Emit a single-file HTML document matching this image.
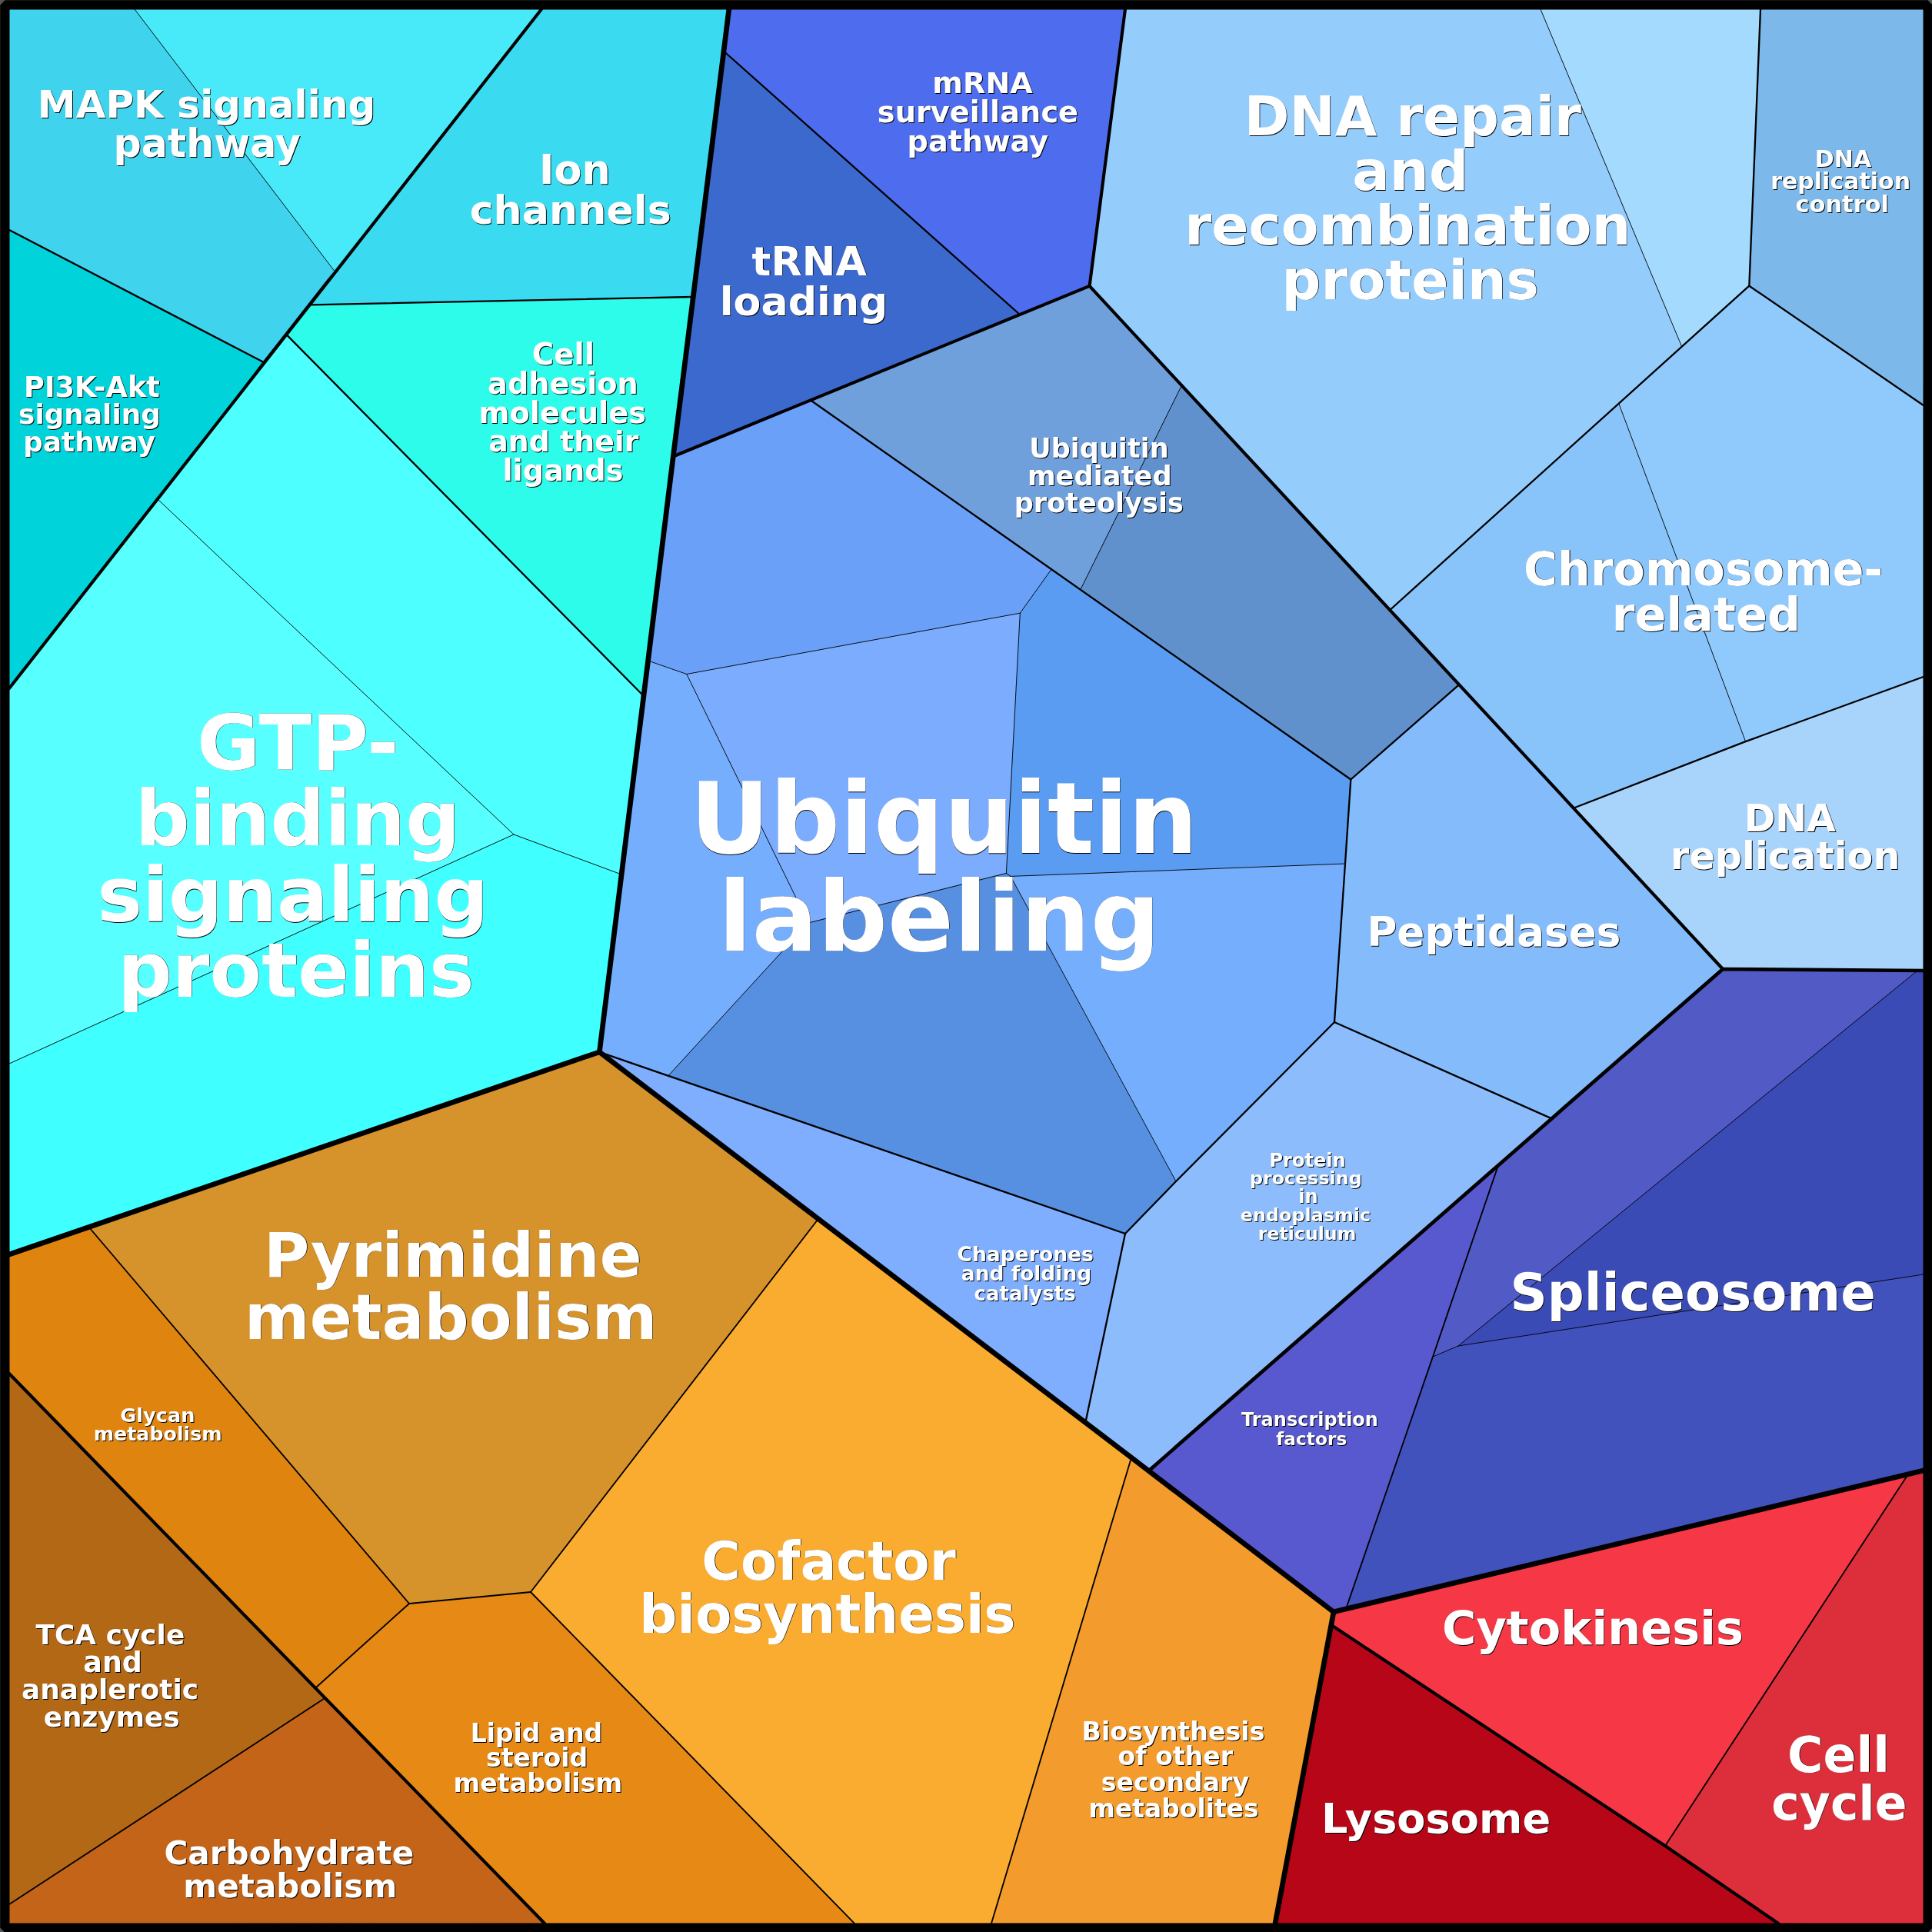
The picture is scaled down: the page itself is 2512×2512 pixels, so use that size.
<!DOCTYPE html>
<html lang="en"><head><meta charset="utf-8"><title>Voronoi treemap</title>
<style>html,body{margin:0;padding:0;background:#575757;}svg{display:block;will-change:transform;}text{font-family:"DejaVu Sans","Liberation Sans",sans-serif;font-weight:bold;text-anchor:start;}.sh{fill:#000;}.tx{fill:#fff;}</style></head><body>
<svg width="2512" height="2512" viewBox="0 0 2512 2512">
<rect x="0" y="0" width="2512" height="2512" fill="#575757"/>
<rect x="6.5" y="6.5" width="2500" height="2500" fill="#000" stroke="#000" stroke-width="12" stroke-linejoin="bevel"/>
<g stroke="none">
<polygon points="10,10 175,12 434.3,351.7 341.4,470.3 12,299" fill="#40D3EE" stroke="#40D3EE" stroke-width="0.6"/>
<polygon points="175,12 704,12 434.3,351.7" fill="#48E9F9" stroke="#48E9F9" stroke-width="0.6"/>
<polygon points="12,299 341.4,470.3 206,650 12,895" fill="#00D4DA" stroke="#00D4DA" stroke-width="0.6"/>
<polygon points="704,12 947.8,12 941,66.5 901.3,386 404.6,396.3 434.3,351.7" fill="#3ADBF0" stroke="#3ADBF0" stroke-width="0.6"/>
<polygon points="404.6,396.3 901.3,386 875.3,593.5 842.6,859 836.9,905 373,435.6" fill="#2EFCEA" stroke="#2EFCEA" stroke-width="0.6"/>
<polygon points="373,435.6 836.9,905 808.1,1137 668,1085 206,650" fill="#4EFFFF" stroke="#4EFFFF" stroke-width="0.6"/>
<polygon points="206,650 668,1085 12,1383 12,895" fill="#58FFFF" stroke="#58FFFF" stroke-width="0.6"/>
<polygon points="12,1383 668,1085 808.1,1137 779.4,1367.8 12,1631" fill="#40FFFF" stroke="#40FFFF" stroke-width="0.6"/>
<polygon points="941,66.5 1326,409 1054.5,520.7 875.3,593.5 901.3,386" fill="#3C69CE" stroke="#3C69CE" stroke-width="0.6"/>
<polygon points="947.8,12 1463,12 1416.6,371.9 1326,409 941,66.5" fill="#4E6DEE" stroke="#4E6DEE" stroke-width="0.6"/>
<polygon points="1463,12 2003,12 2186.7,450.7 2104.8,524.7 1807.3,793 1536,502 1416.6,371.9" fill="#94CCFC" stroke="#94CCFC" stroke-width="0.6"/>
<polygon points="2003,12 2289,12 2274.3,371.7 2186.7,450.7" fill="#A3DAFD" stroke="#A3DAFD" stroke-width="0.6"/>
<polygon points="2289,12 2502,10 2500.8,527 2274.3,371.7" fill="#7CB8E9" stroke="#7CB8E9" stroke-width="0.6"/>
<polygon points="1807.3,793 2104.8,524.7 2269.6,964.1 2046.5,1050.5 1897.2,890.2" fill="#88C4F9" stroke="#88C4F9" stroke-width="0.6"/>
<polygon points="2104.8,524.7 2186.7,450.7 2274.3,371.7 2500.8,527 2500.8,880 2269.6,964.1" fill="#90CAFD" stroke="#90CAFD" stroke-width="0.6"/>
<polygon points="2046.5,1050.5 2269.6,964.1 2500.8,880 2500.8,1262 2493,1262 2240,1260" fill="#A8D4FC" stroke="#A8D4FC" stroke-width="0.6"/>
<polygon points="1054.5,520.7 1326,409 1416.6,371.9 1536,502 1404.8,766.7 1367,740.3" fill="#70A0DC" stroke="#70A0DC" stroke-width="0.6"/>
<polygon points="1536,502 1807.3,793 1897.2,890.2 1756.3,1013.5 1404.8,766.7" fill="#6091CD" stroke="#6091CD" stroke-width="0.6"/>
<polygon points="1897.2,890.2 2046.5,1050.5 2240,1260 2017.5,1454.4 1735,1329 1749,1123 1756.3,1013.5" fill="#84BCFB" stroke="#84BCFB" stroke-width="0.6"/>
<polygon points="1735,1329 2017.5,1454.4 1948,1515.2 1493.5,1912.4 1411.3,1849.7 1463,1604 1529,1536" fill="#8CBCFB" stroke="#8CBCFB" stroke-width="0.6"/>
<polygon points="779.4,1367.8 869.5,1398 1463,1604 1411.3,1849.7 1064,1584.8" fill="#7EAEFD" stroke="#7EAEFD" stroke-width="0.6"/>
<polygon points="875.3,593.5 1054.5,520.7 1367,740.3 1326.3,797.2 892.8,876.5 842.6,859" fill="#6AA0F8" stroke="#6AA0F8" stroke-width="0.6"/>
<polygon points="892.8,876.5 1326.3,797.2 1308.4,1135.4 1051,1200" fill="#7CACFD" stroke="#7CACFD" stroke-width="0.6"/>
<polygon points="1367,740.3 1404.8,766.7 1756.3,1013.5 1749,1123 1314,1139.4 1308.4,1135.4 1326.3,797.2" fill="#5A9CF1" stroke="#5A9CF1" stroke-width="0.6"/>
<polygon points="842.6,859 892.8,876.5 1051,1200 869.5,1398 779.4,1367.8 808.1,1137 836.9,905" fill="#76AEFE" stroke="#76AEFE" stroke-width="0.6"/>
<polygon points="1051,1200 1308.4,1135.4 1314,1139.4 1529,1536 1463,1604 869.5,1398" fill="#5790E0" stroke="#5790E0" stroke-width="0.6"/>
<polygon points="1314,1139.4 1749,1123 1735,1329 1529,1536" fill="#74AEFD" stroke="#74AEFD" stroke-width="0.6"/>
<polygon points="1493.5,1912.4 1948,1515.2 1863,1764 1750,2092 1734,2095.8" fill="#5859CF" stroke="#5859CF" stroke-width="0.6"/>
<polygon points="1948,1515.2 2240,1260 2493,1262 1896,1750 1863,1764" fill="#525AC6" stroke="#525AC6" stroke-width="0.6"/>
<polygon points="2493,1262 2500.8,1262 2500.8,1657 1896,1750" fill="#3B4BB6" stroke="#3B4BB6" stroke-width="0.6"/>
<polygon points="1863,1764 1896,1750 2500.8,1657 2500.8,1912 2481,1916.7 1750,2092" fill="#4252BC" stroke="#4252BC" stroke-width="0.6"/>
<polygon points="1730.8,2112.8 2165,2400 2312,2500.8 1658,2500.8" fill="#B70617" stroke="#B70617" stroke-width="0.6"/>
<polygon points="1734,2095.8 1750,2092 2481,1916.7 2165,2400 1730.8,2112.8" fill="#F53746" stroke="#F53746" stroke-width="0.6"/>
<polygon points="2481,1916.7 2500.8,1912 2502,2502 2312,2500.8 2165,2400" fill="#DD2F3B" stroke="#DD2F3B" stroke-width="0.6"/>
<polygon points="12,1631 116,1596 532,2085 411,2194 12,1786" fill="#DF840E" stroke="#DF840E" stroke-width="0.6"/>
<polygon points="116,1596 779.4,1367.8 1064,1584.8 690,2070 532,2085" fill="#D6922B" stroke="#D6922B" stroke-width="0.6"/>
<polygon points="1064,1584.8 1411.3,1849.7 1471,1895.2 1289,2500.8 1111,2500.8 690,2070" fill="#FAAC30" stroke="#FAAC30" stroke-width="0.6"/>
<polygon points="1471,1895.2 1493.5,1912.4 1734,2095.8 1730.8,2112.8 1658,2500.8 1289,2500.8" fill="#F39C2D" stroke="#F39C2D" stroke-width="0.6"/>
<polygon points="532,2085 690,2070 1111,2500.8 708,2500.8 421.5,2208.5 411,2194" fill="#E78915" stroke="#E78915" stroke-width="0.6"/>
<polygon points="12,1786 411,2194 421.5,2208.5 12,2476" fill="#B36816" stroke="#B36816" stroke-width="0.6"/>
<polygon points="421.5,2208.5 708,2500.8 10,2502 12,2476" fill="#C36418" stroke="#C36418" stroke-width="0.6"/>
</g>
<g fill="none" stroke="#000" stroke-linecap="round" stroke-linejoin="round">
<polyline points="175,12 434.3,351.7" stroke-width="0.9"/>
<polyline points="206,650 668,1085" stroke-width="0.9"/>
<polyline points="668,1085 808.1,1137" stroke-width="0.9"/>
<polyline points="668,1085 12,1383" stroke-width="0.9"/>
<polyline points="2003,12 2186.7,450.7" stroke-width="0.9"/>
<polyline points="2104.8,524.7 2269.6,964.1" stroke-width="0.9"/>
<polyline points="1536,502 1404.8,766.7" stroke-width="0.9"/>
<polyline points="842.6,859 892.8,876.5" stroke-width="0.9"/>
<polyline points="892.8,876.5 1326.3,797.2" stroke-width="0.9"/>
<polyline points="1367,740.3 1326.3,797.2" stroke-width="0.9"/>
<polyline points="1326.3,797.2 1308.4,1135.4" stroke-width="0.9"/>
<polyline points="892.8,876.5 1051,1200" stroke-width="0.9"/>
<polyline points="1308.4,1135.4 1051,1200" stroke-width="0.9"/>
<polyline points="1051,1200 869.5,1398" stroke-width="0.9"/>
<polyline points="1308.4,1135.4 1314,1139.4" stroke-width="0.9"/>
<polyline points="1314,1139.4 1749,1123" stroke-width="0.9"/>
<polyline points="1314,1139.4 1529,1536" stroke-width="0.9"/>
<polyline points="1863,1764 1896,1750" stroke-width="0.9"/>
<polyline points="1896,1750 2493,1262" stroke-width="0.9"/>
<polyline points="1896,1750 2500.8,1657" stroke-width="0.9"/>
<polyline points="12,299 341.4,470.3" stroke-width="2.3"/>
<polyline points="404.6,396.3 901.3,386" stroke-width="2.3"/>
<polyline points="373,435.6 836.9,905" stroke-width="2.3"/>
<polyline points="941,66.5 1326,409" stroke-width="2.3"/>
<polyline points="2289,12 2274.3,371.7 2500.8,527" stroke-width="2.3"/>
<polyline points="2274.3,371.7 1807.3,793" stroke-width="2.3"/>
<polyline points="2046.5,1050.5 2269.6,964.1 2500.8,880" stroke-width="2.3"/>
<polyline points="1054.5,520.7 1756.3,1013.5" stroke-width="2.3"/>
<polyline points="1897.2,890.2 1756.3,1013.5" stroke-width="2.3"/>
<polyline points="1756.3,1013.5 1749,1123 1735,1329" stroke-width="2.3"/>
<polyline points="1735,1329 2017.5,1454.4" stroke-width="2.3"/>
<polyline points="1735,1329 1529,1536 1463,1604" stroke-width="2.3"/>
<polyline points="1463,1604 1411.3,1849.7" stroke-width="2.3"/>
<polyline points="779.4,1367.8 1463,1604" stroke-width="2.3"/>
<polyline points="1948,1515.2 1863,1764 1750,2092" stroke-width="1.85"/>
<polyline points="1730.8,2112.8 2165,2400 2312,2500.8" stroke-width="4.1"/>
<polyline points="2481,1916.7 2165,2400" stroke-width="1.85"/>
<polyline points="421.5,2208.5 12,2476" stroke-width="1.85"/>
<polyline points="116,1596 532,2085" stroke-width="1.85"/>
<polyline points="532,2085 690,2070" stroke-width="1.85"/>
<polyline points="690,2070 1064,1584.8" stroke-width="1.85"/>
<polyline points="690,2070 1111,2500.8" stroke-width="1.85"/>
<polyline points="532,2085 411,2194" stroke-width="1.85"/>
<polyline points="1471,1895.2 1289,2500.8" stroke-width="1.85"/>
<polyline points="704,12 12,895" stroke-width="4.1"/>
<polyline points="875.3,593.5 1416.6,371.9" stroke-width="4.1"/>
<polyline points="1463,12 1416.6,371.9" stroke-width="4.1"/>
<polyline points="1416.6,371.9 2240,1260" stroke-width="4.1"/>
<polyline points="12,1786 708,2500.8" stroke-width="4.1"/>
<polyline points="947.8,12 941,66.5 901.3,386 875.3,593.5 842.6,859 836.9,905 808.1,1137 779.4,1367.8" stroke-width="6.7"/>
<polyline points="779.4,1367.8 12,1631" stroke-width="6.7"/>
<polyline points="779.4,1367.8 1064,1584.8 1411.3,1849.7 1471,1895.2 1493.5,1912.4 1734,2095.8" stroke-width="6.7"/>
<polyline points="1493.5,1912.4 1948,1515.2 2017.5,1454.4 2240,1260 2500.8,1262" stroke-width="4.7"/>
<polyline points="1734,2095.8 2500.8,1912" stroke-width="6.7"/>
<polyline points="1734,2095.8 1730.8,2112.8 1658,2500.8" stroke-width="6.7"/>
</g>
<rect x="6.5" y="6.5" width="2500" height="2500" fill="none" stroke="#000" stroke-width="12" stroke-linejoin="bevel"/>
<text class="sh" font-size="50.08" x="49.78" y="153.86">MAPK signaling</text>
<text class="tx" font-size="50.08" x="48.82" y="152.90">MAPK signaling</text>
<text class="sh" font-size="50.71" x="148.42" y="204.85">pathway</text>
<text class="tx" font-size="50.71" x="147.48" y="203.90">pathway</text>
<text class="sh" font-size="52.47" x="701.83" y="239.61">Ion</text>
<text class="tx" font-size="52.47" x="700.92" y="238.70">Ion</text>
<text class="sh" font-size="52.24" x="611.57" y="291.52">channels</text>
<text class="tx" font-size="52.24" x="610.65" y="290.60">channels</text>
<text class="sh" font-size="36.69" x="32.08" y="516.80">PI3K-Akt</text>
<text class="tx" font-size="36.69" x="31.08" y="515.80">PI3K-Akt</text>
<text class="sh" font-size="35.87" x="25.07" y="552.10">signaling</text>
<text class="tx" font-size="35.87" x="24.07" y="551.10">signaling</text>
<text class="sh" font-size="35.79" x="31.36" y="587.70">pathway</text>
<text class="tx" font-size="35.79" x="30.36" y="586.70">pathway</text>
<text class="sh" font-size="38.76" x="692.82" y="474.70">Cell</text>
<text class="tx" font-size="38.76" x="691.82" y="473.70">Cell</text>
<text class="sh" font-size="38.24" x="635.09" y="512.70">adhesion</text>
<text class="tx" font-size="38.24" x="634.09" y="511.70">adhesion</text>
<text class="sh" font-size="38.39" x="623.43" y="550.80">molecules</text>
<text class="tx" font-size="38.39" x="622.43" y="549.80">molecules</text>
<text class="sh" font-size="37.88" x="636.27" y="587.80">and their</text>
<text class="tx" font-size="37.88" x="635.27" y="586.80">and their</text>
<text class="sh" font-size="38.36" x="654.39" y="625.90">ligands</text>
<text class="tx" font-size="38.36" x="653.39" y="624.90">ligands</text>
<text class="sh" font-size="38.14" x="1213.32" y="121.90">mRNA</text>
<text class="tx" font-size="38.14" x="1212.32" y="120.90">mRNA</text>
<text class="sh" font-size="38.35" x="1141.86" y="159.80">surveillance</text>
<text class="tx" font-size="38.35" x="1140.86" y="158.80">surveillance</text>
<text class="sh" font-size="38.24" x="1180.58" y="198.00">pathway</text>
<text class="tx" font-size="38.24" x="1179.58" y="197.00">pathway</text>
<text class="sh" font-size="52.26" x="978.39" y="358.42">tRNA</text>
<text class="tx" font-size="52.26" x="977.48" y="357.50">tRNA</text>
<text class="sh" font-size="52.22" x="936.58" y="411.22">loading</text>
<text class="tx" font-size="52.22" x="935.67" y="410.30">loading</text>
<text class="sh" font-size="35.06" x="1339.27" y="596.10">Ubiquitin</text>
<text class="tx" font-size="35.06" x="1338.27" y="595.10">Ubiquitin</text>
<text class="sh" font-size="35.25" x="1336.90" y="631.50">mediated</text>
<text class="tx" font-size="35.25" x="1335.90" y="630.50">mediated</text>
<text class="sh" font-size="35.16" x="1319.66" y="666.70">proteolysis</text>
<text class="tx" font-size="35.16" x="1318.66" y="665.70">proteolysis</text>
<text class="sh" font-size="70.83" x="1618.47" y="176.78">DNA repair</text>
<text class="tx" font-size="70.83" x="1617.79" y="176.10">DNA repair</text>
<text class="sh" font-size="71.98" x="1758.83" y="247.67">and</text>
<text class="tx" font-size="71.98" x="1758.16" y="247.00">and</text>
<text class="sh" font-size="71.10" x="1540.96" y="318.88">recombination</text>
<text class="tx" font-size="71.10" x="1540.28" y="318.20">recombination</text>
<text class="sh" font-size="71.11" x="1667.22" y="389.47">proteins</text>
<text class="tx" font-size="71.11" x="1666.55" y="388.80">proteins</text>
<text class="sh" font-size="30.04" x="2360.86" y="218.00">DNA</text>
<text class="tx" font-size="30.04" x="2359.86" y="217.00">DNA</text>
<text class="sh" font-size="30.00" x="2303.23" y="246.90">replication</text>
<text class="tx" font-size="30.00" x="2302.23" y="245.90">replication</text>
<text class="sh" font-size="30.45" x="2335.48" y="276.90">control</text>
<text class="tx" font-size="30.45" x="2334.48" y="275.90">control</text>
<text class="sh" font-size="60.16" x="1981.74" y="761.30">Chromosome-</text>
<text class="tx" font-size="60.16" x="1980.94" y="760.50">Chromosome-</text>
<text class="sh" font-size="60.53" x="2096.42" y="820.89">related</text>
<text class="tx" font-size="60.53" x="2095.63" y="820.10">related</text>
<text class="sh" font-size="100.54" x="256.57" y="1001.08">GTP-</text>
<text class="tx" font-size="100.54" x="256.09" y="1000.60">GTP-</text>
<text class="sh" font-size="99.31" x="176.18" y="1099.48">binding</text>
<text class="tx" font-size="99.31" x="175.69" y="1099.00">binding</text>
<text class="sh" font-size="98.73" x="126.93" y="1198.59">signaling</text>
<text class="tx" font-size="98.73" x="126.44" y="1198.10">signaling</text>
<text class="sh" font-size="98.58" x="153.77" y="1296.19">proteins</text>
<text class="tx" font-size="98.58" x="153.28" y="1295.70">proteins</text>
<text class="sh" font-size="80.97" x="343.65" y="1660.09">Pyrimidine</text>
<text class="tx" font-size="80.97" x="343.06" y="1659.50">Pyrimidine</text>
<text class="sh" font-size="81.32" x="318.52" y="1741.09">metabolism</text>
<text class="tx" font-size="81.32" x="317.93" y="1740.50">metabolism</text>
<text class="sh" font-size="127.65" x="897.62" y="1109.68">Ubiquitin</text>
<text class="tx" font-size="127.65" x="897.25" y="1109.30">Ubiquitin</text>
<text class="sh" font-size="126.99" x="934.34" y="1236.18">labeling</text>
<text class="tx" font-size="126.99" x="933.97" y="1235.80">labeling</text>
<text class="sh" font-size="26.58" x="1245.40" y="1640.90">Chaperones</text>
<text class="tx" font-size="26.58" x="1244.40" y="1639.90">Chaperones</text>
<text class="sh" font-size="26.46" x="1250.81" y="1666.10">and folding</text>
<text class="tx" font-size="26.46" x="1249.81" y="1665.10">and folding</text>
<text class="sh" font-size="25.97" x="1267.61" y="1692.10">catalysts</text>
<text class="tx" font-size="25.97" x="1266.61" y="1691.10">catalysts</text>
<text class="sh" font-size="24.03" x="1651.53" y="1517.70">Protein</text>
<text class="tx" font-size="24.03" x="1650.53" y="1516.70">Protein</text>
<text class="sh" font-size="23.79" x="1625.96" y="1541.10">processing</text>
<text class="tx" font-size="23.79" x="1624.96" y="1540.10">processing</text>
<text class="sh" font-size="24.12" x="1689.20" y="1565.00">in</text>
<text class="tx" font-size="24.12" x="1688.20" y="1564.00">in</text>
<text class="sh" font-size="23.84" x="1613.87" y="1588.90">endoplasmic</text>
<text class="tx" font-size="23.84" x="1612.87" y="1587.90">endoplasmic</text>
<text class="sh" font-size="23.65" x="1636.82" y="1612.90">reticulum</text>
<text class="tx" font-size="23.65" x="1635.82" y="1611.90">reticulum</text>
<text class="sh" font-size="53.17" x="1778.33" y="1231.20">Peptidases</text>
<text class="tx" font-size="53.17" x="1777.42" y="1230.30">Peptidases</text>
<text class="sh" font-size="48.88" x="2268.63" y="1082.28">DNA</text>
<text class="tx" font-size="48.88" x="2267.65" y="1081.30">DNA</text>
<text class="sh" font-size="49.24" x="2173.10" y="1131.27">replication</text>
<text class="tx" font-size="49.24" x="2172.12" y="1130.30">replication</text>
<text class="sh" font-size="67.11" x="1964.14" y="1704.72">Spliceosome</text>
<text class="tx" font-size="67.11" x="1963.42" y="1704.00">Spliceosome</text>
<text class="sh" font-size="25.59" x="157.30" y="1850.30">Glycan</text>
<text class="tx" font-size="25.59" x="156.30" y="1849.30">Glycan</text>
<text class="sh" font-size="25.34" x="122.63" y="1873.60">metabolism</text>
<text class="tx" font-size="25.34" x="121.63" y="1872.60">metabolism</text>
<text class="sh" font-size="35.90" x="47.56" y="2139.10">TCA cycle</text>
<text class="tx" font-size="35.90" x="46.56" y="2138.10">TCA cycle</text>
<text class="sh" font-size="36.41" x="109.36" y="2174.80">and</text>
<text class="tx" font-size="36.41" x="108.36" y="2173.80">and</text>
<text class="sh" font-size="36.03" x="28.90" y="2209.80">anaplerotic</text>
<text class="tx" font-size="36.03" x="27.90" y="2208.80">anaplerotic</text>
<text class="sh" font-size="35.86" x="57.63" y="2245.50">enzymes</text>
<text class="tx" font-size="35.86" x="56.63" y="2244.50">enzymes</text>
<text class="sh" font-size="32.96" x="612.70" y="2265.90">Lipid and</text>
<text class="tx" font-size="32.96" x="611.70" y="2264.90">Lipid and</text>
<text class="sh" font-size="33.19" x="633.01" y="2298.00">steroid</text>
<text class="tx" font-size="33.19" x="632.01" y="2297.00">steroid</text>
<text class="sh" font-size="33.32" x="590.48" y="2330.80">metabolism</text>
<text class="tx" font-size="33.32" x="589.48" y="2329.80">metabolism</text>
<text class="sh" font-size="42.15" x="214.43" y="2425.40">Carbohydrate</text>
<text class="tx" font-size="42.15" x="213.43" y="2424.40">Carbohydrate</text>
<text class="sh" font-size="42.15" x="239.25" y="2467.50">metabolism</text>
<text class="tx" font-size="42.15" x="238.25" y="2466.50">metabolism</text>
<text class="sh" font-size="69.16" x="912.98" y="2054.19">Cofactor</text>
<text class="tx" font-size="69.16" x="912.29" y="2053.50">Cofactor</text>
<text class="sh" font-size="68.88" x="832.01" y="2123.20">biosynthesis</text>
<text class="tx" font-size="68.88" x="831.31" y="2122.50">biosynthesis</text>
<text class="sh" font-size="33.27" x="1407.59" y="2263.50">Biosynthesis</text>
<text class="tx" font-size="33.27" x="1406.59" y="2262.50">Biosynthesis</text>
<text class="sh" font-size="33.14" x="1454.44" y="2296.40">of other</text>
<text class="tx" font-size="33.14" x="1453.44" y="2295.40">of other</text>
<text class="sh" font-size="33.20" x="1432.70" y="2330.00">secondary</text>
<text class="tx" font-size="33.20" x="1431.70" y="2329.00">secondary</text>
<text class="sh" font-size="32.95" x="1416.58" y="2363.80">metabolites</text>
<text class="tx" font-size="32.95" x="1415.58" y="2362.80">metabolites</text>
<text class="sh" font-size="24.00" x="1615.05" y="1854.60">Transcription</text>
<text class="tx" font-size="24.00" x="1614.05" y="1853.60">Transcription</text>
<text class="sh" font-size="23.30" x="1660.21" y="1879.70">factors</text>
<text class="tx" font-size="23.30" x="1659.21" y="1878.70">factors</text>
<text class="sh" font-size="60.47" x="1875.88" y="2138.59">Cytokinesis</text>
<text class="tx" font-size="60.47" x="1875.08" y="2137.80">Cytokinesis</text>
<text class="sh" font-size="54.16" x="1718.89" y="2383.89">Lysosome</text>
<text class="tx" font-size="54.16" x="1718.00" y="2383.00">Lysosome</text>
<text class="sh" font-size="63.42" x="2324.85" y="2304.26">Cell</text>
<text class="tx" font-size="63.42" x="2324.09" y="2303.50">Cell</text>
<text class="sh" font-size="61.65" x="2304.04" y="2366.38">cycle</text>
<text class="tx" font-size="61.65" x="2303.27" y="2365.60">cycle</text>
</svg></body></html>
